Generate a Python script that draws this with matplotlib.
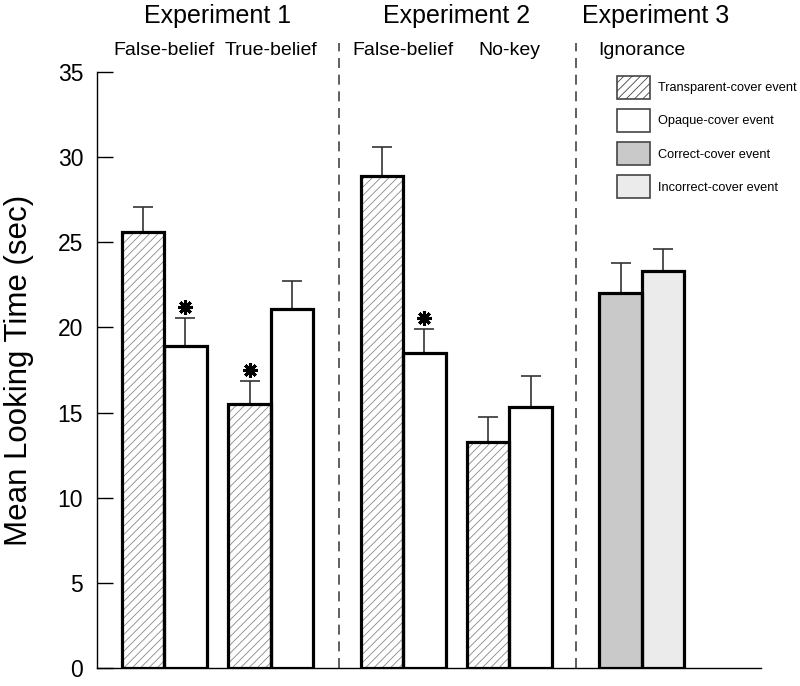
import numpy as np
import matplotlib.pyplot as plt
from matplotlib.patches import Patch

plt.rcParams['font.family'] = ['Liberation Sans', 'DejaVu Sans']
plt.rcParams['hatch.linewidth'] = 0.6
plt.rcParams['hatch.color'] = '#888888'

# data
experiments = ["Experiment 1", "Experiment 2", "Experiment 3"]
conditions = ["False-belief", "True-belief", "False-belief", "No-key", "Ignorance"]
first_kind = ["transparent", "transparent", "transparent", "transparent", "correct"]
second_kind = ["opaque", "opaque", "opaque", "opaque", "incorrect"]
first_means = [25.6, 15.5, 28.9, 13.3, 22.0]
first_err = [1.5, 1.35, 1.7, 1.45, 1.8]
second_means = [18.9, 21.1, 18.5, 15.3, 23.3]
second_err = [1.65, 1.6, 1.4, 1.85, 1.3]
first_sig = [False, True, False, False, False]
second_sig = [True, False, True, False, False]

legend_labels = ["Transparent-cover event", "Opaque-cover event",
                 "Correct-cover event", "Incorrect-cover event"]

styles = {
    "transparent": dict(facecolor="white", hatch="////"),
    "opaque": dict(facecolor="white", hatch=None),
    "correct": dict(facecolor="#c9c9c9", hatch=None),
    "incorrect": dict(facecolor="#ebebeb", hatch=None),
}

# layout (x in bar-width units)
centers = np.array([1.58, 4.09, 7.2, 9.7, 12.82])
exp_x = [2.84, 8.45, 13.15]
dividers = [5.69, 11.27]
w = 1.0

fig = plt.figure(figsize=(8, 6.86), dpi=100)
ax = fig.add_axes([97/800, 18/686, (761-97)/800, (668-72)/686])

def draw_bar(x, h, kind):
    st = styles[kind]
    ax.bar(x, h, w, color=st["facecolor"], hatch=st["hatch"], linewidth=0, zorder=2)
    ax.bar(x, h, w, facecolor="none", edgecolor="black", linewidth=2.3, zorder=3)

for i in range(len(conditions)):
    x1 = centers[i] - w/2
    x2 = centers[i] + w/2
    draw_bar(x1, first_means[i], first_kind[i])
    draw_bar(x2, second_means[i], second_kind[i])
    for x, m, e, s in [(x1, first_means[i], first_err[i], first_sig[i]),
                       (x2, second_means[i], second_err[i], second_sig[i])]:
        ax.errorbar(x, m, yerr=[[0], [e]], fmt="none", ecolor="#333333",
                    elinewidth=1.2, capsize=7, capthick=1.2, zorder=1)
        if s:
            ax.plot(x, m + e + 0.65, marker=(8, 2, 0), markersize=10.5,
                    markeredgewidth=2.2, color="black", clip_on=False, zorder=4)
    ax.text(centers[i], 36.25, conditions[i], ha="center", va="center", fontsize=14)

for i, name in enumerate(experiments):
    ax.text(exp_x[i], 38.3, name, ha="center", va="center", fontsize=18)

for d in dividers:
    ax.plot([d, d], [0, 36.7], color="#444444", linestyle=(0, (6, 4)),
            linewidth=1.2, clip_on=False, zorder=1)

ax.set_xlim(0, (761-97)/42.5)
ax.set_ylim(0, 35)
ax.set_yticks(range(0, 36, 5))
ax.set_xticks([])
ax.spines['top'].set_visible(False)
ax.spines['right'].set_visible(False)
ax.spines['left'].set_linewidth(1.0)
ax.spines['bottom'].set_linewidth(1.0)
ax.tick_params(axis='y', direction='in', length=11.5, width=1.0, pad=10, labelsize=16.5)
ax.set_ylabel("Mean Looking Time (sec)", fontsize=22.5, labelpad=17)

handles = [Patch(facecolor=styles[k]["facecolor"], hatch=styles[k]["hatch"],
                 edgecolor="#444444", linewidth=1.2)
           for k in ["transparent", "opaque", "correct", "incorrect"]]
ax.legend(handles, legend_labels, loc="upper left",
          bbox_to_anchor=(617/800, 1 - 76/686), bbox_transform=fig.transFigure,
          frameon=False, fontsize=9.2, handlelength=2.6, handleheight=2.4,
          labelspacing=0.78, handletextpad=0.6, borderpad=0, borderaxespad=0)

fig.savefig("out.png", dpi=100)
